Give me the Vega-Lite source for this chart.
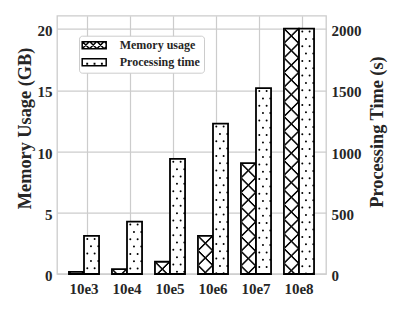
{
  "$schema": "https://vega.github.io/schema/vega-lite/v6.json",
  "width": 269,
  "height": 258.3,
  "autosize": {"type": "none"},
  "padding": {"left": 57, "top": 15.7, "right": 73, "bottom": 36},
  "background": "white",
  "config": {
    "view": {"stroke": "#cccccc", "strokeWidth": 1.3},
    "axis": {
      "domain": false, "ticks": false, "tickSize": 0,
      "gridColor": "#cccccc", "gridWidth": 1.2,
      "labelFont": "Liberation Serif", "labelFontWeight": "bold", "labelFontSize": 15, "labelColor": "#262626",
      "titleFont": "Liberation Serif", "titleFontWeight": "bold", "titleFontSize": 18.3, "titleColor": "#262626"
    }
  },
  "data": {
    "values": [
      {"cat": "10e3", "series": "Memory usage", "value": 0.18},
      {"cat": "10e4", "series": "Memory usage", "value": 0.4},
      {"cat": "10e5", "series": "Memory usage", "value": 1.0},
      {"cat": "10e6", "series": "Memory usage", "value": 3.11},
      {"cat": "10e7", "series": "Memory usage", "value": 9.05},
      {"cat": "10e8", "series": "Memory usage", "value": 20.05},
      {"cat": "10e3", "series": "Processing time", "value": 311},
      {"cat": "10e4", "series": "Processing time", "value": 428},
      {"cat": "10e5", "series": "Processing time", "value": 941},
      {"cat": "10e6", "series": "Processing time", "value": 1229},
      {"cat": "10e7", "series": "Processing time", "value": 1519},
      {"cat": "10e8", "series": "Processing time", "value": 2005}
    ]
  },
  "encoding": {
    "x": {
      "field": "cat", "type": "nominal",
      "sort": ["10e3", "10e4", "10e5", "10e6", "10e7", "10e8"],
      "scale": {"paddingInner": 0.3, "paddingOuter": 0.278, "round": false},
      "axis": {"title": null, "labelAngle": 0, "grid": true, "bandPosition": 0.62, "labelPadding": 7}
    }
  },
  "layer": [
    {
      "transform": [{"filter": "datum.series === 'Memory usage'"}],
      "encoding": {
        "y": {
          "field": "value", "type": "quantitative",
          "scale": {"domain": [0, 21.1], "nice": false, "zero": true},
          "axis": {"title": "Memory Usage (GB)", "values": [0, 5, 10, 15, 20], "format": "d", "grid": true, "labelPadding": 5, "labelOffset": 1.5, "titlePadding": 2.4, "titleY": 112.3}
        }
      },
      "layer": [
        {
          "mark": {"type": "bar"},
          "encoding": {
            "xOffset": {"field": "series", "type": "nominal", "scale": {"domain": ["Memory usage", "Processing time"], "paddingInner": 0, "paddingOuter": 0}},
            "fill": {
              "field": "series", "type": "nominal",
              "scale": {"domain": ["Memory usage", "Processing time"], "range": ["white", "white"]},
              "legend": {
                "title": null, "orient": "none", "legendX": 22, "legendY": 20,
                "padding": 3.5, "rowPadding": 3, "symbolOffset": 5.7, "labelOffset": 19.5,
                "symbolSize": 64, "symbolStrokeWidth": 1.5, "symbolStrokeColor": "black",
                "strokeColor": "#cccccc", "fillColor": "white", "cornerRadius": 3,
                "labelFont": "Liberation Serif", "labelFontWeight": "bold", "labelFontSize": 12, "labelColor": "#262626", "labelLimit": 0,
                "encode": {
                  "symbols": {
                    "update": {
                      "shape": [
                        {"test": "datum.value === 'Memory usage'", "value": "M-3,-0.875H3V0.875H-3Z M-3,0.875L-1.25,-0.875 M-1.167,0.875L0.583,-0.875 M0.667,0.875L2.417,-0.875 M2.5,0.875L3,0.375 M-2.917,-0.875L-1.167,0.875 M-1.083,-0.875L0.667,0.875 M0.75,-0.875L2.5,0.875 M2.583,-0.875L3,-0.458"},
                        {"value": "M-3,-0.875H3V0.875H-3Z M-1.8,0.33h0.1v0.1h-0.1Z M0.03,0.33h0.1v0.1h-0.1Z M1.87,0.33h0.1v0.1h-0.1Z"}
                      ],
                      "stroke": {"value": "black"},
                      "strokeWidth": {"value": 1.5},
                      "fill": {"value": "white"},
                      "opacity": {"value": 1}
                    }
                  }
                }
              }
            }
          }
        },
        {"mark": {"type": "rule", "xOffset": -13.55, "strokeDash": [2.2, 0.8, 2.2, 9.467], "strokeDashOffset": 2.6, "strokeWidth": 1, "color": "black"}, "encoding": {"y2": {"datum": 0}}},
        {"mark": {"type": "rule", "xOffset": -12.55, "strokeDash": [2.2, 2.8, 2.2, 7.467], "strokeDashOffset": 3.6, "strokeWidth": 1, "color": "black"}, "encoding": {"y2": {"datum": 0}}},
        {"mark": {"type": "rule", "xOffset": -11.55, "strokeDash": [2.2, 4.8, 2.2, 5.467], "strokeDashOffset": 4.6, "strokeWidth": 1, "color": "black"}, "encoding": {"y2": {"datum": 0}}},
        {"mark": {"type": "rule", "xOffset": -10.55, "strokeDash": [2.2, 6.8, 2.2, 3.467], "strokeDashOffset": 5.6, "strokeWidth": 1, "color": "black"}, "encoding": {"y2": {"datum": 0}}},
        {"mark": {"type": "rule", "xOffset": -9.55, "strokeDash": [2.2, 8.8, 2.2, 1.467], "strokeDashOffset": 6.6, "strokeWidth": 1, "color": "black"}, "encoding": {"y2": {"datum": 0}}},
        {"mark": {"type": "rule", "xOffset": -8.55, "strokeDash": [3.867, 10.8], "strokeDashOffset": 9.267, "strokeWidth": 1, "color": "black"}, "encoding": {"y2": {"datum": 0}}},
        {"mark": {"type": "rule", "xOffset": -7.55, "strokeDash": [2.533, 12.133], "strokeDashOffset": 8.6, "strokeWidth": 1, "color": "black"}, "encoding": {"y2": {"datum": 0}}},
        {"mark": {"type": "rule", "xOffset": -6.55, "strokeDash": [2.2, 10.133, 2.2, 0.133], "strokeDashOffset": 7.267, "strokeWidth": 1, "color": "black"}, "encoding": {"y2": {"datum": 0}}},
        {"mark": {"type": "rule", "xOffset": -5.55, "strokeDash": [2.2, 8.133, 2.2, 2.133], "strokeDashOffset": 6.267, "strokeWidth": 1, "color": "black"}, "encoding": {"y2": {"datum": 0}}},
        {"mark": {"type": "rule", "xOffset": -4.55, "strokeDash": [2.2, 6.133, 2.2, 4.133], "strokeDashOffset": 5.267, "strokeWidth": 1, "color": "black"}, "encoding": {"y2": {"datum": 0}}},
        {"mark": {"type": "rule", "xOffset": -3.55, "strokeDash": [2.2, 4.133, 2.2, 6.133], "strokeDashOffset": 4.267, "strokeWidth": 1, "color": "black"}, "encoding": {"y2": {"datum": 0}}},
        {"mark": {"type": "rule", "xOffset": -2.55, "strokeDash": [2.2, 2.133, 2.2, 8.133], "strokeDashOffset": 3.267, "strokeWidth": 1, "color": "black"}, "encoding": {"y2": {"datum": 0}}},
        {"mark": {"type": "rule", "xOffset": -1.55, "strokeDash": [2.2, 0.133, 2.2, 10.133], "strokeDashOffset": 2.267, "strokeWidth": 1, "color": "black"}, "encoding": {"y2": {"datum": 0}}},
        {
          "mark": {"type": "bar", "fill": "transparent", "stroke": "black", "strokeWidth": 1.8},
          "encoding": {"xOffset": {"field": "series", "type": "nominal"}}
        }
      ]
    },
    {
      "transform": [{"filter": "datum.series === 'Processing time'"}],
      "encoding": {
        "y": {
          "field": "value", "type": "quantitative",
          "scale": {"domain": [0, 2110], "nice": false, "zero": true},
          "axis": {"orient": "right", "title": "Processing Time (s)", "values": [0, 500, 1000, 1500, 2000], "format": "d", "grid": false, "labelPadding": 5, "labelOffset": 1.5, "titleAngle": 270, "titleBaseline": "top", "titlePadding": 7.7, "titleY": 115.8}
        }
      },
      "layer": [
        {
          "mark": {"type": "bar"},
          "encoding": {
            "xOffset": {"field": "series", "type": "nominal"},
            "fill": {"field": "series", "type": "nominal"}
          }
        },
        {"mark": {"type": "rule", "xOffset": 3.3, "strokeDash": [0, 14.667], "strokeDashOffset": 11.667, "strokeWidth": 2, "strokeCap": "round", "color": "black"}, "encoding": {"y2": {"datum": 0}}},
        {"mark": {"type": "rule", "xOffset": 6.97, "strokeDash": [0, 14.667], "strokeDashOffset": 4.333, "strokeWidth": 2, "strokeCap": "round", "color": "black"}, "encoding": {"y2": {"datum": 0}}},
        {"mark": {"type": "rule", "xOffset": 10.63, "strokeDash": [0, 14.667], "strokeDashOffset": 11.667, "strokeWidth": 2, "strokeCap": "round", "color": "black"}, "encoding": {"y2": {"datum": 0}}},
        {"mark": {"type": "rule", "xOffset": 14.3, "strokeDash": [0, 14.667], "strokeDashOffset": 4.333, "strokeWidth": 2, "strokeCap": "round", "color": "black"}, "encoding": {"y2": {"datum": 0}}},
        {
          "mark": {"type": "bar", "fill": "transparent", "stroke": "black", "strokeWidth": 1.8},
          "encoding": {"xOffset": {"field": "series", "type": "nominal"}}
        }
      ]
    }
  ],
  "resolve": {"scale": {"y": "independent"}}
}
